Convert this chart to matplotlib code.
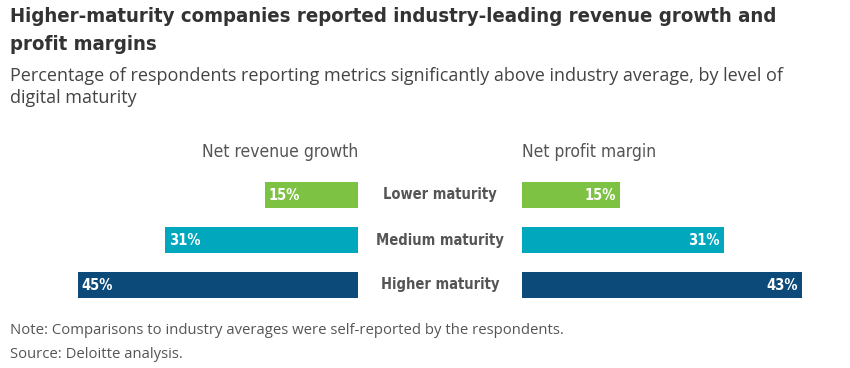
import matplotlib
matplotlib.use("Agg")
import matplotlib.pyplot as plt

W, H = 850, 368

levels = ["Lower maturity", "Medium maturity", "Higher maturity"]
revenue_growth = [15, 31, 45]
profit_margin = [15, 31, 43]
colors = ["#7DC242", "#00A7BD", "#0C4A7A"]

NARROW = dict(family="DejaVu Sans", fontstretch="condensed")
BODY = ["Open Sans", "DejaVu Sans"]


def fx(x):
    return x / W


def fy(y):
    return 1 - y / H


fig = plt.figure(figsize=(W / 100, H / 100), dpi=100)
fig.patch.set_facecolor("white")

# bars: rows centred at y=195, 240, 285 px, 45 px apart
top, bottom = 172.5, 307.5
ax_l = fig.add_axes([fx(78), fy(bottom), fx(280), (bottom - top) / H])
ax_r = fig.add_axes([fx(522), fy(bottom), fx(280), (bottom - top) / H])

rows = range(len(levels))
ax_l.barh(rows, revenue_growth, height=0.56, color=colors)
ax_r.barh(rows, profit_margin, height=0.56, color=colors)
ax_l.set_xlim(max(revenue_growth), 0)
ax_r.set_xlim(0, max(profit_margin))
for ax in (ax_l, ax_r):
    ax.set_ylim(len(levels) - 0.5, -0.5)
    ax.axis("off")

for i, v in enumerate(revenue_growth):
    ax_l.text(v - 0.6, i, f"{v}%", ha="left", va="center", color="white",
              fontsize=10.5, fontweight="bold", **NARROW)
for i, v in enumerate(profit_margin):
    ax_r.text(v - 0.6, i, f"{v}%", ha="right", va="center", color="white",
              fontsize=10.5, fontweight="bold", **NARROW)
    fig.text(fx(440), fy(195 + 45 * i), levels[i], ha="center", va="center",
             color="#555555", fontsize=10.5, fontweight="bold", **NARROW)

fig.text(fx(358), fy(152), "Net revenue growth", ha="right", va="center",
         color="#555555", fontsize=12.5, **NARROW)
fig.text(fx(522), fy(152), "Net profit margin", ha="left", va="center",
         color="#555555", fontsize=12.5, **NARROW)

fig.text(fx(10), fy(7), "Higher-maturity companies reported industry-leading revenue growth and\nprofit margins",
         ha="left", va="top", color="#333333", fontsize=14.6, fontweight="bold",
         linespacing=1.6, **NARROW)
fig.text(fx(10), fy(67), "Percentage of respondents reporting metrics significantly above industry average, by level of\ndigital maturity",
         ha="left", va="top", color="#444444", fontsize=13, family=BODY,
         linespacing=1.3)

fig.text(fx(10), fy(330), "Note: Comparisons to industry averages were self-reported by the respondents.",
         ha="left", va="center", color="#555555", fontsize=10.7, family=BODY)
fig.text(fx(10), fy(354), "Source: Deloitte analysis.",
         ha="left", va="center", color="#555555", fontsize=10.7, family=BODY)

fig.savefig("out.png", dpi=100)
